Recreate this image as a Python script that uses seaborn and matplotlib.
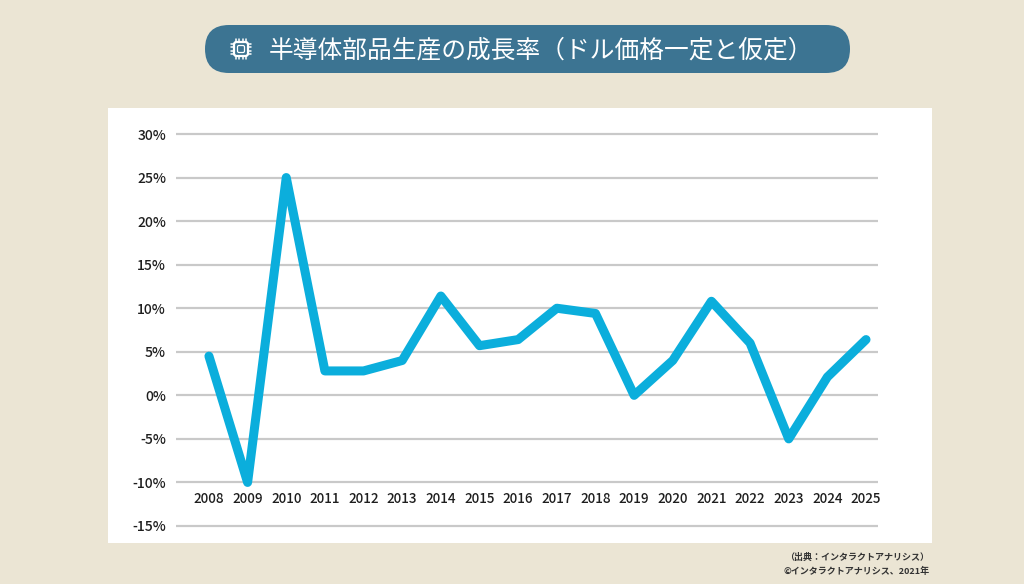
import matplotlib
matplotlib.use("Agg")
import matplotlib.pyplot as plt
import seaborn as sns
import pandas as pd
from matplotlib.patches import FancyBboxPatch, Rectangle

years = [2008, 2009, 2010, 2011, 2012, 2013, 2014, 2015, 2016, 2017,
         2018, 2019, 2020, 2021, 2022, 2023, 2024, 2025]
growth = [4.5, -10.0, 25.0, 2.8, 2.8, 4.0, 11.4, 5.7, 6.4, 10.0,
          9.4, 0.0, 4.0, 10.8, 6.0, -5.0, 2.1, 6.4]
yticks = [-15, -10, -5, 0, 5, 10, 15, 20, 25, 30]
ytick_labels = [f"{v}%" for v in yticks]
title = "半導体部品生産の成長率（ドル価格一定と仮定）"
source_lines = ["（出典：インタラクトアナリシス）", "©インタラクトアナリシス、2021年"]

sns.set_theme(style="white")
plt.rcParams["font.family"] = ["Noto Sans CJK JP", "DejaVu Sans"]

BG = "#EBE5D4"
BANNER = "#3C7492"
LINE = "#0BAEDC"

fig = plt.figure(figsize=(10.24, 5.84), dpi=100)
fig.patch.set_facecolor(BG)

# background decoration axes in pixel units
bg = fig.add_axes([0, 0, 1, 1], zorder=-1)
bg.set_xlim(0, 1024)
bg.set_ylim(584, 0)
bg.axis("off")
bg.add_patch(Rectangle((108, 108), 824, 435, facecolor="white", edgecolor="none"))
bg.add_patch(FancyBboxPatch((205, 25), 645, 48,
                            boxstyle="round,pad=0,rounding_size=24",
                            facecolor=BANNER, edgecolor="none"))
bg.text(541, 50, title, color="white", fontsize=17.8, ha="center", va="center",
        fontweight="normal")

# chip icon
cx, cy = 241, 49
bg.add_patch(FancyBboxPatch((cx - 7, cy - 7), 14, 14,
                            boxstyle="round,pad=0,rounding_size=2.5",
                            facecolor="none", edgecolor="white", linewidth=1.6))
bg.add_patch(FancyBboxPatch((cx - 3.5, cy - 3.5), 7, 7,
                            boxstyle="round,pad=0,rounding_size=1.5",
                            facecolor="none", edgecolor="white", linewidth=0.9))
for i in range(4):
    off = -5.25 + i * 3.5
    for (x0, y0, x1, y1) in [
            (cx + off, cy - 7, cx + off, cy - 10),
            (cx + off, cy + 7, cx + off, cy + 10),
            (cx - 7, cy + off, cx - 10, cy + off),
            (cx + 7, cy + off, cx + 10, cy + off)]:
        bg.plot([x0, x1], [y0, y1], color="white", linewidth=1.1)

# source
bg.text(857, 557, source_lines[0], fontsize=6.5, color="#333333",
        ha="center", va="center", fontweight="bold")
bg.text(857, 571, source_lines[1], fontsize=6.5, color="#333333",
        ha="center", va="center", fontweight="bold")

# chart axes
ax = fig.add_axes([175.7/1024, 53.65/584, (878-175.7)/1024, (454.35-53.65)/584], zorder=1)
ax.set_facecolor("none")
df = pd.DataFrame({"year": years, "growth": growth})
sns.lineplot(data=df, x="year", y="growth", ax=ax, color=LINE, linewidth=6.5,
             zorder=3, solid_joinstyle="round", solid_capstyle="round")
ax.set_xlim(2008 - 0.86, 2025 + 0.31)
ax.set_ylim(-15.5, 30.5)
ax.set_yticks(yticks)
ax.set_yticklabels(ytick_labels)
ax.set_xticks(years)
ax.set_xticklabels([str(y) for y in years])
ax.grid(axis="y", color="#C9C9C9", linewidth=1.6, zorder=1)
ax.grid(axis="x", visible=False)
for s in ax.spines.values():
    s.set_visible(False)
ax.tick_params(axis="y", length=0, pad=7, labelsize=10, labelcolor="#1E1E1E")
ax.tick_params(axis="x", length=0, pad=-27.6, labelsize=9.7, labelcolor="#1E1E1E")
for lbl in ax.get_xticklabels() + ax.get_yticklabels():
    lbl.set_fontweight("medium")
ax.set_xlabel("")
ax.set_ylabel("")

fig.savefig("out.png", dpi=100, facecolor=BG)
